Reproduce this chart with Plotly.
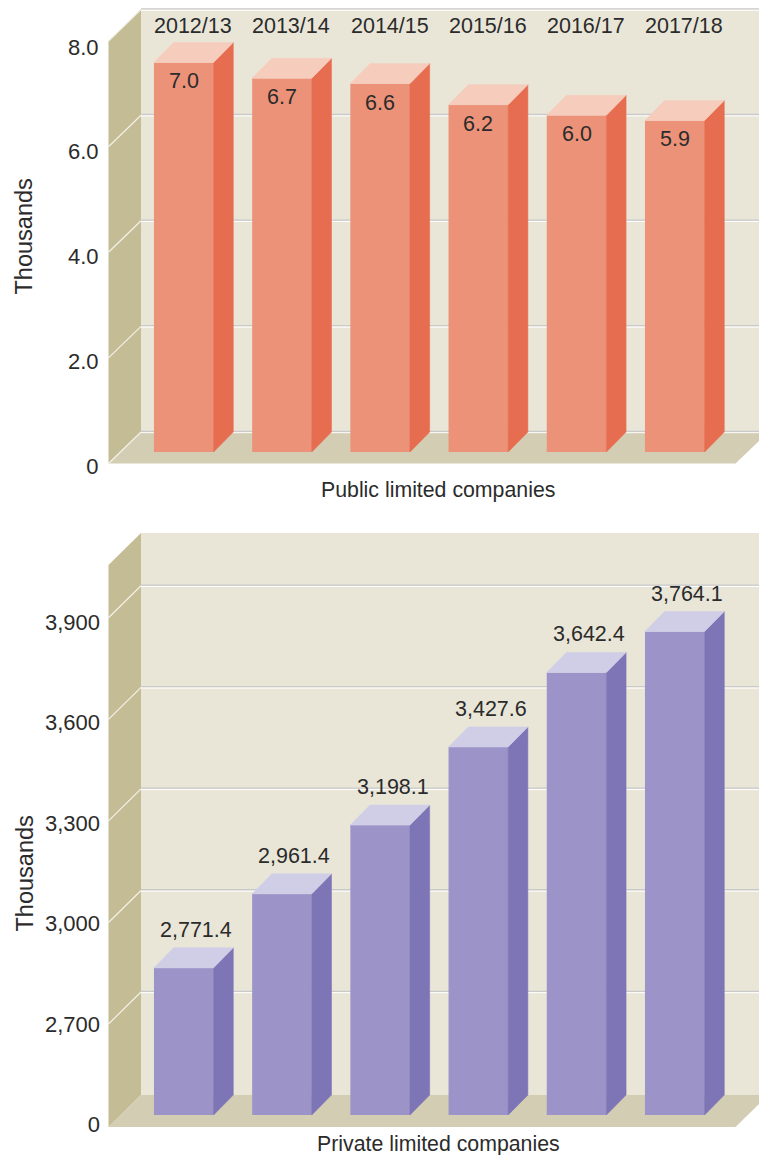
import plotly.graph_objects as go

# ---- data ----
years = ["2012/13", "2013/14", "2014/15", "2015/16", "2016/17", "2017/18"]
public_values = [7.0, 6.7, 6.6, 6.2, 6.0, 5.9]
private_values = [2771.4, 2961.4, 3198.1, 3427.6, 3642.4, 3764.1]
# height the source actually draws (its second bar stands higher than its label implies)
private_levels = [2771.4, 2990.0, 3193.0, 3424.0, 3644.0, 3765.0]
public_ticks = [0, 2, 4, 6, 8]
public_ticktext = ["0", "2.0", "4.0", "6.0", "8.0"]
private_ticks = [2400, 2700, 3000, 3300, 3600, 3900]   # broken axis: lowest tick is labelled 0
private_ticktext = ["0", "2,700", "3,000", "3,300", "3,600", "3,900"]
private_grid = [2700, 3000, 3300, 3600, 3900]

# ---- geometry (pixels) ----
W, H = 759, 1155
SLOT, BAR_W, X0 = 98.2, 59.6, 183.75
DEPTH_X, DEPTH_Y = 19.7, 20.0
WALL_L, WALL_R, FLOOR_R = 108.5, 141.0, 735.5
FONT = "Liberation Sans"
TXT = "#2b2b2b"
C_BACK, C_LEFT, C_FLOOR = "#E9E6D8", "#C3BC94", "#D2CDB3"
C_GRID = "#C9C9C9"


def yrange(zero_px, px_per_unit):
    return [(zero_px - H) / px_per_unit, zero_px / px_per_unit]


# axis scales: value -> pixel
PUB_ZERO, PUB_SCALE = 432.0, 52.8        # back plane
PUB_T_ZERO, PUB_T_SCALE = 466.0, 52.4    # tick labels
PRI_SCALE = 0.3385
PRI_ZERO = 992.0 + 2700 * PRI_SCALE
PRI_T_SCALE = 0.335
PRI_T_ZERO = 1024.0 + 2700 * PRI_T_SCALE
PUB_BASE = (PUB_ZERO - 452.0) / PUB_SCALE
PRI_BASE = (PRI_ZERO - 1115.0) / PRI_SCALE

fig = go.Figure()


def px(x):
    return x / W


def py(y):
    return 1 - y / H


def poly(points, color):
    path = "M " + " L ".join(f"{px(x):.5f},{py(y):.5f}" for x, y in points) + " Z"
    fig.add_shape(type="path", path=path, xref="paper", yref="paper",
                  fillcolor=color, line=dict(width=0), layer="below")


def seg(x0, y0, x1, y1, color, w=1.2):
    fig.add_shape(type="line", xref="paper", yref="paper", x0=px(x0), y0=py(y0),
                  x1=px(x1), y1=py(y1), line=dict(color=color, width=w), layer="below")


def walls(top_back, top_left, floor_back, floor_front, grid_ys):
    poly([(WALL_R, top_back), (W, top_back), (W, floor_back), (WALL_R, floor_back)], C_BACK)
    poly([(WALL_L, top_left), (WALL_R, top_back), (WALL_R, floor_back), (WALL_L, floor_front)], C_LEFT)
    poly([(WALL_L, floor_front), (WALL_R, floor_back), (W, floor_back),
          (W, floor_back + 9), (FLOOR_R, floor_front)], C_FLOOR)
    drop = floor_front - floor_back
    for gy in grid_ys:
        seg(WALL_R, gy - 0.7, W, gy - 0.7, C_GRID, 1.3)
        seg(WALL_R, gy + 0.7, W, gy + 0.7, "#FFFFFF", 1.0)
        seg(WALL_L, gy + drop, WALL_R, gy, "#F4F2EA", 1.2)


walls(9, 41, PUB_ZERO, 463.5, [PUB_ZERO - v * PUB_SCALE for v in public_ticks])
walls(533, 565, 1095, 1127, [PRI_ZERO - v * PRI_SCALE for v in private_grid])


def bars(levels, base, scale, yaxis, front, side, top):
    dx = DEPTH_X / SLOT
    dy = DEPTH_Y / scale
    half = BAR_W / SLOT / 2
    idx = list(range(len(levels)))
    for i, lv in zip(idx, levels):
        fig.add_trace(go.Scatter(
            x=[i + half, i + half + dx, i + half + dx, i + half, i + half],
            y=[lv, lv + dy, base + dy, base, lv],
            yaxis=yaxis, mode="lines", fill="toself", fillcolor=side,
            line=dict(width=0.6, color=side), hoverinfo="skip", showlegend=False))
        fig.add_trace(go.Scatter(
            x=[i - half, i - half + dx, i + half + dx, i + half, i - half],
            y=[lv, lv + dy, lv + dy, lv, lv],
            yaxis=yaxis, mode="lines", fill="toself", fillcolor=top,
            line=dict(width=0.6, color=top), hoverinfo="skip", showlegend=False))
    fig.add_trace(go.Bar(x=idx, y=[lv - base for lv in levels], base=base, width=BAR_W / SLOT,
                         yaxis=yaxis, marker=dict(color=front, line=dict(width=0)),
                         hoverinfo="skip", showlegend=False))


bars(public_values, PUB_BASE, PUB_SCALE, "y", "#EC9278", "#E76D50", "#F6CDBD")
bars(private_levels, PRI_BASE, PRI_SCALE, "y3", "#9C94C8", "#7D75B5", "#D0CEE6")
# empty traces so the tick-label axes exist
fig.add_trace(go.Scatter(x=[None], y=[None], yaxis="y2", showlegend=False))
fig.add_trace(go.Scatter(x=[None], y=[None], yaxis="y4", showlegend=False))

font = dict(family=FONT, size=21.5, color=TXT)
tick_font = dict(family=FONT, size=22, color=TXT)


def note(text, **kw):
    fig.add_annotation(text=text, showarrow=False, font=kw.pop("font", font),
                       xanchor="center", yanchor="middle", **kw)


for i, yr in enumerate(years):
    note(yr, x=i, xref="x", xshift=9.5, y=py(26), yref="paper")
for i, v in enumerate(public_values):
    note(f"{v:.1f}", x=i, xref="x", y=v, yref="y", yshift=-19)
for i, (v, lv) in enumerate(zip(private_values, private_levels)):
    note(f"{v:,.1f}", x=i, xref="x", xshift=12.5, y=lv, yref="y3", yshift=38)

label_font = dict(family=FONT, size=21.3, color=TXT)
axis_font = dict(family=FONT, size=23.5, color=TXT)
note("Public limited companies", x=px(438), xref="paper", y=py(490), yref="paper", font=label_font)
note("Private limited companies", x=px(438), xref="paper", y=py(1144), yref="paper", font=label_font)
note("Thousands", x=px(24), xref="paper", y=py(236.5), yref="paper", textangle=-90, font=axis_font)
note("Thousands", x=px(24), xref="paper", y=py(873.5), yref="paper", textangle=-90, font=axis_font)

hidden = dict(visible=False, domain=[0, 1], fixedrange=True)
tickaxis = dict(visible=True, overlaying="y", anchor="free", side="left",
                showgrid=False, zeroline=False, showline=False, ticks="",
                tickfont=tick_font, domain=[0, 1])
fig.update_layout(
    width=W, height=H, margin=dict(l=0, r=0, t=0, b=0),
    paper_bgcolor="white", plot_bgcolor="rgba(0,0,0,0)", barmode="overlay",
    showlegend=False,
    xaxis=dict(visible=False, domain=[0, 1],
               range=[-X0 / SLOT, (W - X0) / SLOT]),
    yaxis=dict(range=yrange(PUB_ZERO, PUB_SCALE), **hidden),
    yaxis2=dict(range=yrange(PUB_T_ZERO, PUB_T_SCALE), tickvals=public_ticks,
                ticktext=public_ticktext, position=98.5 / W, **tickaxis),
    yaxis3=dict(range=yrange(PRI_ZERO, PRI_SCALE), overlaying="y", **hidden),
    yaxis4=dict(range=yrange(PRI_T_ZERO, PRI_T_SCALE), tickvals=private_ticks,
                ticktext=private_ticktext, position=100 / W, **tickaxis),
)
fig.write_html("out.html", config={"displayModeBar": False},
               post_script="document.body.style.margin='0';")
